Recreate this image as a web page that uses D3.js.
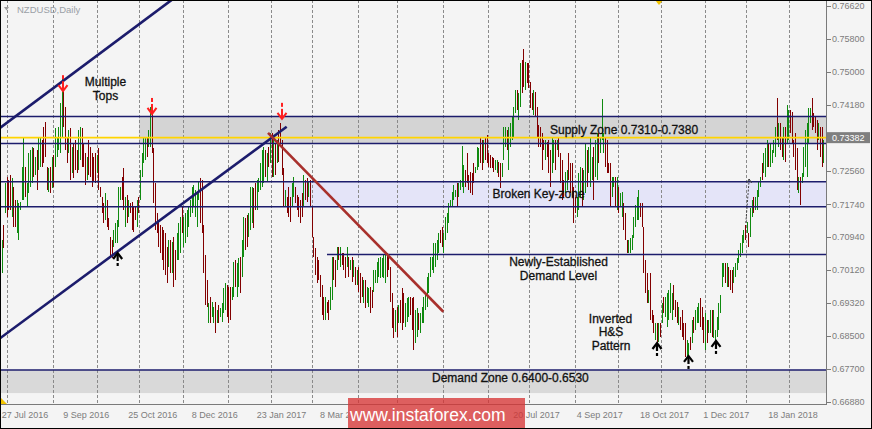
<!DOCTYPE html>
<html><head><meta charset="utf-8">
<script src="https://cdn.jsdelivr.net/npm/d3@7"></script>
<style>html,body{margin:0;padding:0;background:#f4f4f4;}svg{display:block;}</style>
</head><body><svg id="c" width="872" height="429"></svg>
<script>
// ---- DATA (prices in 1/10000 units, i.e. 7087 = 0.7087) ----
const barHigh = [
7087,7124,7227,7242,7234,7247,7239,7217,7185,7185,7178,7180,7266,7340,7266,7227,7301,7308,7315,7313,
7291,7308,7338,7340,7333,7365,7377,7266,7264,7266,7291,7296,7362,7340,7365,7424,7488,7463,7414,7338,
7357,7362,7315,7325,7333,7308,7357,7365,7362,7325,7301,7291,7333,7315,7301,7291,7301,7296,7313,7217,
7192,7178,7202,7185,7141,7094,7087,7111,7128,7136,7217,7217,7242,7264,7192,7197,7185,7178,7180,7168,
7168,7185,7192,7259,7301,7338,7340,7340,7357,7414,7399,7313,7227,7153,7136,7124,7119,7111,7104,7069,
7087,7087,7082,7094,7062,7104,7128,7143,7168,7143,7153,7160,7168,7185,7217,7222,7210,7205,7229,7239,
7234,7124,7050,6988,6932,6946,6934,6922,6934,6914,6927,6919,6932,6969,6981,6976,6971,6971,6971,7032,
7037,7030,7042,7045,7087,7143,7141,7148,7153,7217,7217,7215,7227,7234,7239,7276,7308,7315,7308,7301,
7315,7350,7350,7333,7325,7333,7357,7374,7333,7264,7210,7192,7217,7192,7227,7242,7217,7197,7192,7185,
7202,7247,7234,7239,7229,7234,7168,7094,7067,7045,7037,7001,6976,6946,6946,6934,6939,6971,7045,7045,
7037,7069,7069,7069,7055,7055,7045,7069,7045,7037,7045,7037,7020,7013,7020,7005,6996,6988,6988,6971,
6969,6971,6964,7013,7013,7032,7042,7045,7042,7050,7055,7055,7045,7020,6956,6919,6914,6922,6927,6939,
6969,6956,6932,6944,6946,6946,6944,6946,6914,6919,6907,6907,6922,6946,6959,6996,7005,7045,7045,7079,
7079,7087,7104,
7111,7119,7104,7143,7153,7178,7185,7205,7222,7210,7227,7227,7234,7318,7271,7259,7301,7247,7254,7251,
7276,7266,7315,7313,7340,7333,7333,7340,7345,7301,7296,7291,7288,7283,7283,7278,7276,7276,7365,7365,
7357,7365,7374,7389,7414,7456,7456,7448,7522,7529,7556,7524,7522,7522,7475,7448,7456,7451,7414,7370,
7365,7350,7333,7333,7328,7333,7308,7340,7333,7333,7333,7338,7301,7283,7234,7254,7259,7301,7276,7276,
7217,7192,7192,7251,7266,7264,7259,7325,7308,7315,7340,7291,7315,7333,7350,7350,7340,7433,7350,7340,
7333,7276,7276,7242,7242,7242,7242,7217,7202,
7205,7178,7153,7087,7087,7092,7099,7143,7173,7192,7210,7178,7178,7119,7037,7005,6964,7005,6914,6902,
6882,6882,6882,6882,6932,6946,6946,6956,6964,6981,6956,6976,6939,6934,6922,6897,6914,6882,6882,6841,
6833,6848,6890,6897,6914,6922,6932,6944,6922,6897,6907,6890,6890,6914,6914,6914,6865,6897,6932,6951,
7030,7030,7030,7030,7020,7013,7013,7020,7030,7042,7062,7079,7099,7111,7124,7131,7104,7165,7185,7192,
7192,7210,7229,7242,7276,7301,7313,7333,7325,7325,7308,7333,7365,7436,7374,7374,7340,7365,7365,7419,
7406,7406,7401,7333,7350,7313,7242,7242,7251,7315,7357,7374,7411,7411,7436,7399,7389,7382,7374,7365,
7365,7333
];
const barLow = [
7005,7067,7153,7143,7160,7160,7143,7119,7119,7104,7087,7160,7185,7185,7192,7168,7202,7217,7227,7242,
7247,7210,7259,7266,7266,7276,7291,7210,7205,7202,7215,7217,7266,7291,7308,7301,7340,7365,7308,7276,
7301,7234,7251,7239,7259,7251,7259,7283,7266,7266,7222,7234,7247,7242,7217,7229,7227,7251,7210,7192,
7153,7128,7136,7119,7111,7045,7042,7069,7079,7079,7119,7185,7185,7160,7119,7128,7143,7153,7111,7106,
7136,7119,7153,7185,7242,7276,7283,7291,7315,7315,7301,7178,7111,7104,7069,7055,7037,7013,7001,6981,
7020,7005,7005,6971,6988,7037,7037,7055,7104,7069,7079,7094,7119,7143,7153,7168,7143,7119,7185,7128,
7104,7005,6927,6922,6882,6882,6897,6882,6858,6882,6882,6897,6885,6907,6914,6897,6882,6890,6939,6946,
6971,6946,6971,6956,6996,7045,7062,7069,7094,7111,7128,7116,7160,7160,7205,7210,7217,7227,7242,7229,
7266,7276,7242,7242,7247,7276,7278,7325,7247,7168,7168,7153,7143,7131,7168,7192,7178,7160,7143,7128,
7143,7168,7185,7180,7192,7168,7094,7045,7001,6981,6988,6946,6902,6890,6890,6907,6890,6914,6939,6988,
6971,7013,7037,7020,7025,7013,6993,7020,6996,7013,6983,6996,6976,6976,6959,6932,6946,6932,6919,6932,
6922,6907,6919,6959,6981,6981,6996,6993,6996,6993,6981,6996,7013,6934,6870,6846,6860,6848,6882,6882,
6865,6882,6873,6885,6897,6902,6865,6816,6833,6848,6865,6858,6882,6882,6914,6922,6956,6996,7013,7005,
7020,7037,7055,
7079,7069,7055,7087,7104,7128,7168,7168,7185,7192,7168,7192,7210,7217,7202,7217,7227,7210,7202,7197,
7227,7251,7259,7266,7276,7259,7276,7283,7276,7266,7264,7264,7254,7259,7251,7242,7215,7242,7283,7315,
7308,7259,7315,7333,7340,7399,7406,7382,7414,7448,7463,7456,7473,7460,7411,7406,7394,7389,7340,7315,
7315,7259,7308,7283,7291,7251,7217,7251,7276,7259,7308,7291,7227,7185,7192,7202,7210,7234,7202,7192,
7128,7153,7143,7160,7192,7168,7185,7202,7217,7251,7217,7234,7185,7242,7234,7276,7301,7333,7301,7266,
7251,7251,7168,7192,7217,7168,7160,7153,7168,
7143,7111,7087,7055,7055,7055,7062,7092,7119,7136,7136,7143,7119,7005,6956,6932,6932,6890,6882,6858,
6841,6833,6836,6848,6882,6907,6897,6873,6890,6907,6890,6914,6897,6882,6877,6865,6848,6841,6799,6799,
6791,6816,6833,6858,6865,6882,6882,6873,6865,6833,6816,6833,6858,6858,6848,6846,6833,6848,6865,6907,
6971,6996,6981,6971,6971,6964,6956,6981,6996,7013,7030,7045,7055,7079,7087,7104,7069,7094,7143,7153,
7160,7160,7192,7217,7234,7251,7242,7266,7266,7266,7276,7301,7291,7333,7315,7308,7291,7283,7278,7325,
7333,7350,7325,7291,7259,7210,7202,7173,7227,7242,7266,7242,7325,7374,7357,7365,7350,7308,7333,7291,
7266,7276
];
// 1 = bullish bar (green), 0 = bearish bar (dark red)
const barUp = [
1,0,1,0,0,0,1,0,0,1, 1,1,1,1,0,1,1,1,1,0, 1,0,1,1,0,0,0,0,1,0, 1,0,1,1,1,1,1,0,0,0,
1,0,1,0,0,0,1,1,0,0, 0,1,0,0,0,0,0,1,0,0, 0,0,1,0,0,0,0,1,1,1, 1,1,0,0,1,0,1,0,0,0,
0,1,0,1,1,1,1,0,1,1, 0,0,0,0,0,0,0,0,0,0, 1,0,1,0,0,1,1,1,0,1, 1,1,1,1,1,1,1,1,1,0,
0,0,0,0,1,0,1,1,0,1, 0,1,1,1,1,0,0,0,1,1, 0,1,1,0,1,1,0,0,1,1, 1,0,0,1,1,1,1,1,0,1,
0,1,0,1,0,1,0,0,0,0, 1,0,0,0,1,1,0,0,0,0, 0,1,0,0,1,0,0,0,0,0, 0,0,0,0,1,0,0,1,1,0,
0,1,0,1,0,0,0,1,0,1, 0,1,0,1,0,0,0,1,0,1, 1,0,0,1,1,1,1,1,1,1, 1,0,0,0,0,0,1,0,1,0,
0,0,1,1,1,0,0,0,1,1, 0,1,1,1,1,1,1,1,1,1, 1,1,1,
0,0,1,1,1,1,1,1,1,1, 0,1,1,1,1,0,0,0,0,0, 0,1,1,1,0,0,1,0,0,0, 0,0,0,1,1,0,0,1,1,1,
0,1,1,1,1,1,0,1,1,0, 0,1,0,0,0,0,1,0,0,0, 0,0,0,1,0,0,0,1,1,0, 1,0,0,0,0,1,1,0,0,0,
0,0,1,1,1,0,1,1,0,1, 1,1,0,1,1,0,1,1,1,0, 0,0,0,1,1,0,1,0,1,
1,0,0,0,1,1,1,1,1,1, 1,0,0,0,0,0,1,0,0,0, 1,0,1,0,1,0,1,1,1,1, 1,0,0,0,1,0,0,0,0,1,
1,0,1,0,1,1,1,0,0,0, 1,0,1,1,0,1,1,1,1,1, 1,1,0,1,0,0,0,1,1,1, 1,1,1,1,0,1,0,1,1,0,
1,1,1,1,0,1,1,1,0,1, 1,1,1,0,1,0,0,1,0,1, 1,0,0,0,0,0,1,0,1,1, 1,1,1,1,0,0,0,0,1,0,
0,1
];
// date labels on the time axis (those visible in the picture) and their bar index
const dateLabels = ["27 Jul 2016","9 Sep 2016","25 Oct 2016","8 Dec 2016","23 Jan 2017","8 Mar 2017","20 Jul 2017","4 Sep 2017","18 Oct 2017","1 Dec 2017","18 Jan 2018"];
const dateLabelIdx = [0,37,76,114,153,191,307,345,383,421,460];
// vertical grid separators (bar index)
const gridIdx = [3.2,30.8,57.2,82.4,108.8,135.8,161.6,186.2,213.8,237.2,264.8,291.8,316.4,344,369.8,395.6,422,446.6,472.4];
// price axis
const priceTicks = [0.7662,0.758,0.75,0.7418,0.7256,0.7174,0.7094,0.7012,0.6932,0.685,0.677,0.6688];
const bidPrice = 0.73382;
// drawn zones / levels
const supplyZone = [0.7390, 0.7324], supplyStartIdx = 82.4;
const keyZone = [0.7230, 0.7168], keyStartIdx = 168.8;
const demandLevel = 0.7051, demandLevelStartIdx = 195.2;
const demandZone = [0.6767, 0.6710];
// trend lines: [index, price] pairs
const channelUpper = [[-1,0.7362],[102,0.7677]];
const channelLower = [[-1,0.68447],[171,0.73651]];
const downTrend = [[159.8,0.7350],[265,0.6910]];
const projArrow = [[446.5,0.71283],[448.5,0.72365]];
// signal arrows [index, price of tip]
const topArrows = [[36.8,0.7450],[90.2,0.7394],[168.2,0.7382]];
const bottomArrows = [[69.6,0.7057],[393.2,0.68356],[412.1,0.68037],[428.6,0.68406]];

// ---- LAYOUT ----
const W=872,H=429,plotR=826,plotB=404;
const FONT='Liberation Sans, Arial, sans-serif';
const svg=d3.select('#c');
svg.append('rect').attr('width',W).attr('height',H).attr('fill','#f4f4f4');
const N=barHigh.length;
const x=d3.scaleLinear().domain([0,N-1]).range([5/3,823.33]);
const y=d3.scaleLinear().domain([0.6688,0.7662]).range([402,6]);
const P=v=>v/10000;
const navy='#1c1c6c';
const defs=svg.append('defs');
defs.append('clipPath').attr('id','plot').append('rect').attr('x',0).attr('y',0).attr('width',plotR).attr('height',plotB);
defs.append('clipPath').attr('id','xlab').append('rect').attr('x',0).attr('y',plotB).attr('width',348).attr('height',H-plotB);
const g=svg.append('g').attr('clip-path','url(#plot)');

// zone fills
g.append('rect').attr('x',x(supplyStartIdx)).attr('y',y(supplyZone[0])).attr('width',plotR-x(supplyStartIdx)).attr('height',y(supplyZone[1])-y(supplyZone[0])).attr('fill','#d4d4d4');
g.append('rect').attr('x',x(keyStartIdx)).attr('y',y(keyZone[0])).attr('width',plotR-x(keyStartIdx)).attr('height',y(keyZone[1])-y(keyZone[0])).attr('fill','#e4e4f8');
g.append('rect').attr('x',0).attr('y',y(demandZone[0])).attr('width',plotR).attr('height',y(demandZone[1])-y(demandZone[0])).attr('fill','#d9d9d9');

// grid
g.selectAll('line.grid').data(gridIdx).enter().append('line')
 .attr('x1',d=>Math.round(x(d))+0.5).attr('x2',d=>Math.round(x(d))+0.5).attr('y1',0).attr('y2',plotB)
 .attr('stroke','#8a8a8a').attr('stroke-width',1).attr('stroke-dasharray','3,2');

// bars
g.selectAll('line.bar').data(barHigh).enter().append('line')
 .attr('x1',(d,i)=>Math.round(x(i))+0.5).attr('x2',(d,i)=>Math.round(x(i))+0.5)
 .attr('y1',d=>y(P(d))).attr('y2',(d,i)=>y(P(barLow[i])))
 .attr('stroke',(d,i)=>barUp[i]?'#0f8a0f':'#820000').attr('stroke-width',1)
 .attr('shape-rendering','crispEdges');

// horizontal levels
function hline(p,x0,w){g.append('line').attr('x1',x0).attr('x2',plotR).attr('y1',y(p)).attr('y2',y(p)).attr('stroke',navy).attr('stroke-width',w||1.5);}
hline(supplyZone[0],0); hline(supplyZone[1],0);
hline(keyZone[0],0); hline(keyZone[1],0);
hline(demandLevel,x(demandLevelStartIdx));
hline(demandZone[0],0);
// bid line
g.append('line').attr('x1',0).attr('x2',plotR).attr('y1',y(bidPrice)).attr('y2',y(bidPrice)).attr('stroke','#ffd400').attr('stroke-width',1.6);

// trend lines
const ln=d3.line().x(d=>x(d[0])).y(d=>y(d[1]));
g.append('path').attr('d',ln(channelUpper)).attr('stroke',navy).attr('stroke-width',2.6).attr('fill','none');
g.append('path').attr('d',ln(channelLower)).attr('stroke',navy).attr('stroke-width',2.6).attr('fill','none');
g.append('path').attr('d',ln(downTrend)).attr('stroke','#a8302c').attr('stroke-width',2.6).attr('fill','none');
g.append('path').attr('d',ln(projArrow)).attr('stroke','#444').attr('stroke-width',1).attr('stroke-dasharray','2,1.5').attr('fill','none');
{const b=projArrow[1]; const tx=x(b[0]),ty=y(b[1]);
 g.append('path').attr('d',`M${tx-2.5},${ty+4}L${tx},${ty}L${tx+2.5},${ty+4}`).attr('stroke','#444').attr('stroke-width',1).attr('fill','none');}

// signal arrows
topArrows.forEach(([i,p])=>{
  const cx=x(i),t=y(p);
  const a=g.append('g').attr('stroke','#ff2020').attr('fill','none').attr('stroke-width',2);
  a.append('line').attr('x1',cx).attr('x2',cx).attr('y1',t-17).attr('y2',t-13);
  a.append('line').attr('x1',cx).attr('x2',cx).attr('y1',t-11).attr('y2',t-1);
  a.append('path').attr('d',`M${cx-4.5},${t-7}L${cx},${t-1}L${cx+4.5},${t-7}`);
});
bottomArrows.forEach(([i,p])=>{
  const cx=x(i),t=y(p);
  const a=g.append('g').attr('stroke','#000').attr('fill','none').attr('stroke-width',2.2);
  a.append('path').attr('d',`M${cx-4.5},${t+7}L${cx},${t+1}L${cx+4.5},${t+7}`);
  a.append('line').attr('x1',cx).attr('x2',cx).attr('y1',t+2).attr('y2',t+9);
  a.append('line').attr('x1',cx).attr('x2',cx).attr('y1',t+11).attr('y2',t+14);
});

// annotation texts
const notes=[
 ['Multiple',105.5,86,'middle'],['Tops',105.5,100,'middle'],
 ['Supply Zone 0.7310-0.7380',550,133.5,'start'],
 ['Broken Key-zone',492.5,197.5,'start'],
 ['Newly-Established',558.5,265.5,'middle'],['Demand Level',558.5,279.5,'middle'],
 ['Inverted',610.5,322.5,'middle'],['H&S',611,336,'middle'],['Pattern',611,350,'middle'],
 ['Demand Zone 0.6400-0.6530',432,381.5,'start']
];
svg.selectAll('text.note').data(notes).enter().append('text')
 .attr('x',d=>d[1]).attr('y',d=>d[2]).attr('text-anchor',d=>d[3])
 .attr('font-family',FONT).attr('font-size',12).attr('fill','#111')
 .attr('stroke','#111').attr('stroke-width',0.3)
 .text(d=>d[0]);

// title
svg.append('path').attr('d','M4,7L9,7L6.5,10.5Z').attr('fill','#9a9a9a');
svg.append('text').attr('x',17).attr('y',13).attr('font-family',FONT).attr('font-size',9.5).attr('fill','#9aa0a6').text('NZDUSD,Daily');
// yellow markers
svg.append('path').attr('d','M655,0L663,0L659,5Z').attr('fill','#f2c400');
svg.append('path').attr('d','M1,398L1,404L7,404Z').attr('fill','#f2c400');

// axes
svg.append('line').attr('x1',plotR+0.5).attr('x2',plotR+0.5).attr('y1',0).attr('y2',plotB+1).attr('stroke','#7a7a7a');
svg.append('line').attr('x1',0).attr('x2',plotR+1).attr('y1',plotB+0.5).attr('y2',plotB+0.5).attr('stroke','#7a7a7a');
const yt=svg.append('g');
priceTicks.forEach(v=>{
  yt.append('line').attr('x1',plotR+1).attr('x2',plotR+5).attr('y1',Math.round(y(v))+0.5).attr('y2',Math.round(y(v))+0.5).attr('stroke','#7a7a7a');
  yt.append('text').attr('x',832).attr('y',y(v)).attr('dy','0.35em').attr('font-family',FONT).attr('font-size',9).attr('fill','#7c7c7c').text(v.toFixed(5));
});
yt.append('rect').attr('x',plotR+1).attr('y',y(bidPrice)-5.5).attr('width',43).attr('height',11).attr('fill','#7f7f7f');
yt.append('text').attr('x',832).attr('y',y(bidPrice)).attr('dy','0.35em').attr('font-family',FONT).attr('font-size',9).attr('fill','#fff').text(bidPrice.toFixed(5));
const xt=svg.append('g');
dateLabels.forEach((t,k)=>{
  const tx=x(dateLabelIdx[k]);
  const el=xt.append('text').attr('x',tx).attr('y',418).attr('font-family',FONT).attr('font-size',9).attr('fill','#7c7c7c').text(t);
  if(tx<348 && tx+45>348) el.attr('clip-path','url(#xlab)');
});

// watermark
svg.append('rect').attr('x',348).attr('y',398).attr('width',177).attr('height',31).attr('fill','rgba(214,52,52,0.78)');
svg.append('text').attr('x',350).attr('y',421).attr('font-family',FONT).attr('font-size',17.5).attr('fill','#fff').text('www.instaforex.com');

// frame
svg.append('rect').attr('x',0.5).attr('y',0.5).attr('width',W-1).attr('height',H-1).attr('fill','none').attr('stroke','#000');
</script></body></html>
